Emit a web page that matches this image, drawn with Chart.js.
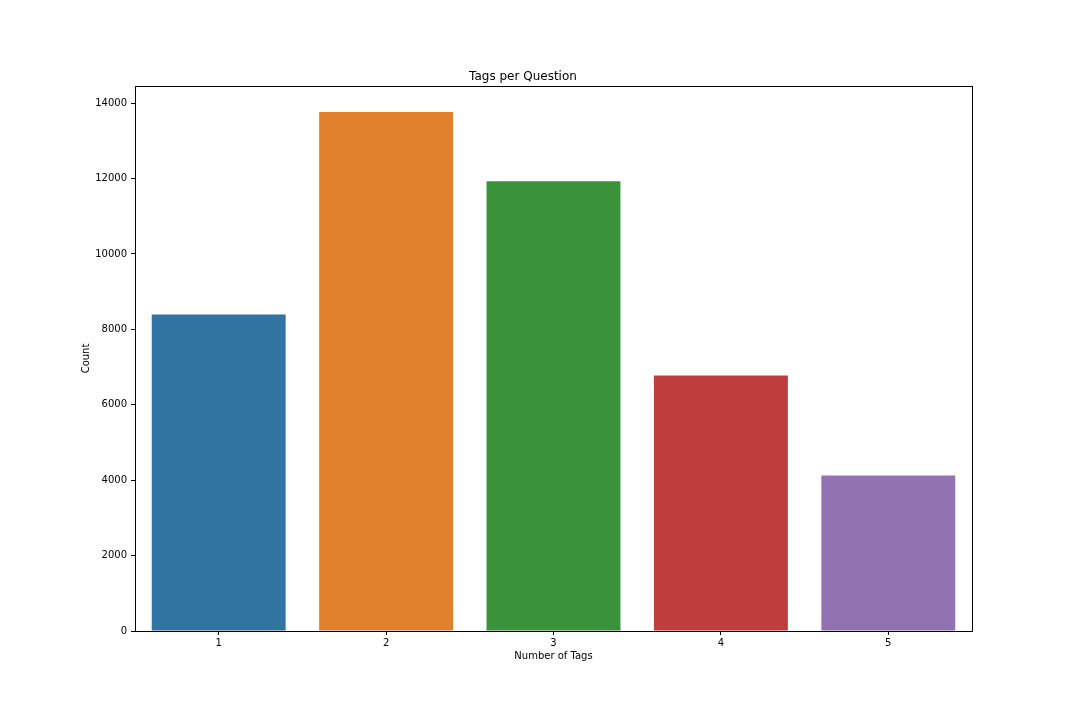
<!DOCTYPE html>
<html>
<head>
<meta charset="utf-8">
<script src="https://cdn.jsdelivr.net/npm/chart.js@4/dist/chart.umd.min.js"></script>
<style>
  html, body { margin: 0; padding: 0; background: #ffffff; }
  #wrap { width: 1080px; height: 720px; }
</style>
</head>
<body>
<div id="wrap"><canvas id="c" width="1080" height="720"></canvas></div>
<script>
const categories = ['1', '2', '3', '4', '5'];
const counts = [8395, 13765, 11926, 6776, 4122];
const barColors = ['#3274a1', '#e1812c', '#3a923a', '#c03d3e', '#9372b2'];
const yTicks = [0, 2000, 4000, 6000, 8000, 10000, 12000, 14000];
const titleText = 'Tags per Question';
const xTitle = 'Number of Tags';
const yTitle = 'Count';

const framePlugin = {
  id: 'frame',
  afterDraw(chart) {
    const a = chart.chartArea, ctx = chart.ctx;
    ctx.save();
    ctx.strokeStyle = '#000000';
    ctx.lineWidth = 1;
    ctx.strokeRect(Math.round(a.left) + 0.5, Math.round(a.top) + 0.5,
                   Math.round(a.right - a.left), Math.round(a.bottom - a.top));
    ctx.restore();
  }
};

const font = { family: 'DejaVu Sans', size: 10 };

new Chart(document.getElementById('c'), {
  type: 'bar',
  data: {
    labels: categories,
    datasets: [{
      data: counts,
      backgroundColor: barColors,
      borderWidth: 0,
      barPercentage: 0.8,
      categoryPercentage: 1.0
    }]
  },
  options: {
    responsive: false,
    animation: false,
    devicePixelRatio: 1,
    layout: { padding: { left: 74, right: 108, top: 0, bottom: 58 } },
    plugins: {
      legend: { display: false },
      tooltip: { enabled: false },
      title: {
        display: true,
        text: titleText,
        color: '#000000',
        font: { family: 'DejaVu Sans', size: 12, weight: 'normal', lineHeight: 1.2 },
        padding: { top: 70, bottom: 1.6 }
      }
    },
    scales: {
      x: {
        grid: { display: true, offset: false, drawOnChartArea: false, tickLength: 4, tickColor: '#000000', color: '#000000' },
        border: { display: true, color: '#000000' },
        ticks: { color: '#000000', font: font, padding: 2, maxRotation: 0 },
        title: { display: true, text: xTitle, color: '#000000', font: font, padding: { top: -1, bottom: 0 } }
      },
      y: {
        min: 0,
        max: 14453,
        afterBuildTicks(scale) {
          scale.ticks = yTicks.map(v => ({ value: v }));
        },
        afterFit(scale) { scale.width = 61; },
        grid: { display: true, drawOnChartArea: false, tickLength: 4, tickColor: '#000000', color: '#000000' },
        border: { display: true, color: '#000000' },
        ticks: { color: '#000000', font: font, padding: 4, callback: v => String(v) },
        title: { display: true, text: yTitle, color: '#000000', font: font, padding: { top: 6, bottom: 0 } }
      }
    }
  },
  plugins: [framePlugin]
});
</script>
</body>
</html>
